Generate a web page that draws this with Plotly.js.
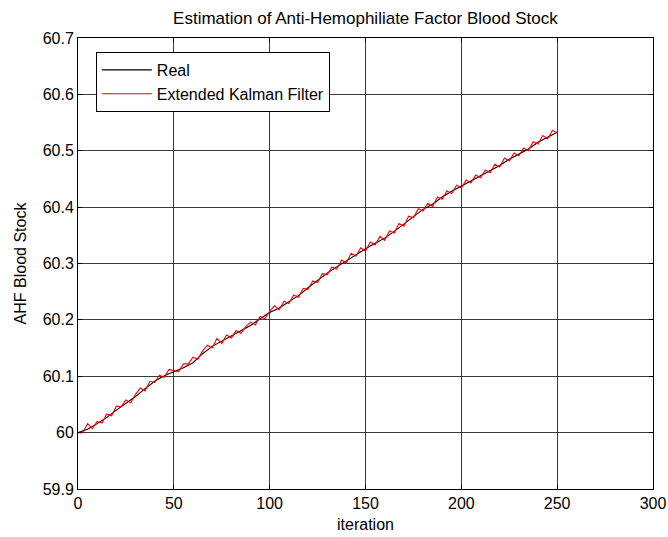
<!DOCTYPE html>
<html>
<head>
<meta charset="utf-8">
<script src="https://cdn.plot.ly/plotly-3.0.1.min.js"></script>
<style>html,body{margin:0;padding:0;background:#fff;}#chart{width:668px;height:537px;}</style>
</head>
<body>
<div id="chart"></div>
<script>
// Real trajectory (sampled every 5 iterations)
var realIter = [0,5,10,15,20,25,30,35,40,45,50,55,60,65,70,75,80,85,90,95,100,105,110,115,120,125,130,135,140,145,150,155,160,165,170,175,180,185,190,195,200,205,210,215,220,225,230,235,240,245,250];
var realValues = [60.000,60.006,60.016,60.027,60.040,60.052,60.064,60.078,60.091,60.101,60.108,60.115,60.124,60.140,60.153,60.162,60.171,60.180,60.190,60.202,60.213,60.221,60.232,60.243,60.257,60.270,60.283,60.294,60.305,60.316,60.326,60.336,60.345,60.357,60.370,60.384,60.396,60.405,60.418,60.428,60.437,60.446,60.455,60.464,60.474,60.485,60.494,60.503,60.515,60.524,60.533];

// Extended Kalman Filter estimate (sampled every 2.5 iterations)
var ekfIter = [0,2.5,5,7.5,10,12.5,15,17.5,20,22.5,25,27.5,30,32.5,35,37.5,40,42.5,45,47.5,50,52.5,55,57.5,60,62.5,65,67.5,70,72.5,75,77.5,80,82.5,85,87.5,90,92.5,95,97.5,100,102.5,105,107.5,110,112.5,115,117.5,120,122.5,125,127.5,130,132.5,135,137.5,140,142.5,145,147.5,150,152.5,155,157.5,160,162.5,165,167.5,170,172.5,175,177.5,180,182.5,185,187.5,190,192.5,195,197.5,200,202.5,205,207.5,210,212.5,215,217.5,220,222.5,225,227.5,230,232.5,235,237.5,240,242.5,245,247.5,250];
var ekfValues = [60.000,60.000,60.016,60.007,60.020,60.017,60.033,60.030,60.047,60.046,60.058,60.053,60.068,60.079,60.074,60.091,60.089,60.102,60.098,60.112,60.110,60.108,60.122,60.122,60.134,60.130,60.145,60.155,60.150,60.167,60.158,60.173,60.168,60.181,60.176,60.188,60.196,60.191,60.206,60.202,60.215,
60.225,60.218,60.233,60.229,60.244,60.240,60.256,60.254,60.269,60.266,60.282,60.280,60.294,60.290,60.306,60.301,60.318,60.313,60.328,60.322,
60.338,60.333,60.348,60.341,60.358,60.354,60.371,60.366,60.384,60.381,60.397,60.393,60.407,60.401,60.418,60.414,60.429,60.424,60.439,60.434,
60.448,60.443,60.457,60.452,60.466,60.461,60.476,60.471,60.487,60.482,60.496,60.491,60.505,60.500,60.516,60.512,60.527,60.521,60.536,60.532];

var xTicks = [0,50,100,150,200,250,300];
var yTicks = [59.9,60,60.1,60.2,60.3,60.4,60.5,60.6,60.7];
var yTickText = ['59.9','60','60.1','60.2','60.3','60.4','60.5','60.6','60.7'];

var FONT = 'Liberation Sans, Arial, Helvetica, sans-serif';

var traces = [
  {x: realIter, y: realValues, type: 'scatter', mode: 'lines', name: 'Real',
   line: {color: '#000000', width: 1.1}},
  {x: ekfIter, y: ekfValues, type: 'scatter', mode: 'lines', name: 'Extended Kalman Filter',
   line: {color: '#ff0000', width: 1.1}}
];

var axisCommon = {
  showgrid: true, gridcolor: '#3a3a3a', gridwidth: 1,
  showline: true, linecolor: '#000000', linewidth: 1, mirror: 'allticks',
  ticks: 'inside', ticklen: 4, tickcolor: '#000000',
  zeroline: false, tickfont: {family: FONT, size: 16, color: '#000000'}
};

var layout = {
  width: 668, height: 537,
  margin: {l: 78, r: 15, t: 38, b: 48},
  paper_bgcolor: '#ffffff', plot_bgcolor: '#ffffff',
  font: {family: FONT, color: '#000000'},
  title: {text: 'Estimation of Anti-Hemophiliate Factor Blood Stock',
          font: {family: FONT, size: 17, color: '#000000'},
          x: 0.547, xanchor: 'center', y: 0.967, yanchor: 'middle'},
  xaxis: Object.assign({}, axisCommon, {
    range: [0, 300], tickvals: xTicks, ticktext: xTicks.map(String),
    title: {text: 'iteration', font: {family: FONT, size: 16, color: '#000000'}, standoff: 7}
  }),
  yaxis: Object.assign({}, axisCommon, {
    range: [59.9, 60.7], tickvals: yTicks, ticktext: yTickText,
    title: {text: 'AHF Blood Stock', font: {family: FONT, size: 16, color: '#000000'}, standoff: 12}
  }),
  showlegend: true,
  legend: {
    x: 0.031, y: 0.969, xanchor: 'left', yanchor: 'top',
    bgcolor: '#ffffff', bordercolor: '#000000', borderwidth: 1,
    font: {family: FONT, size: 16, color: '#000000'},
    itemwidth: 50, tracegroupgap: 0
  }
};

Plotly.newPlot('chart', traces, layout, {displayModeBar: false, staticPlot: true});
</script>
</body>
</html>
